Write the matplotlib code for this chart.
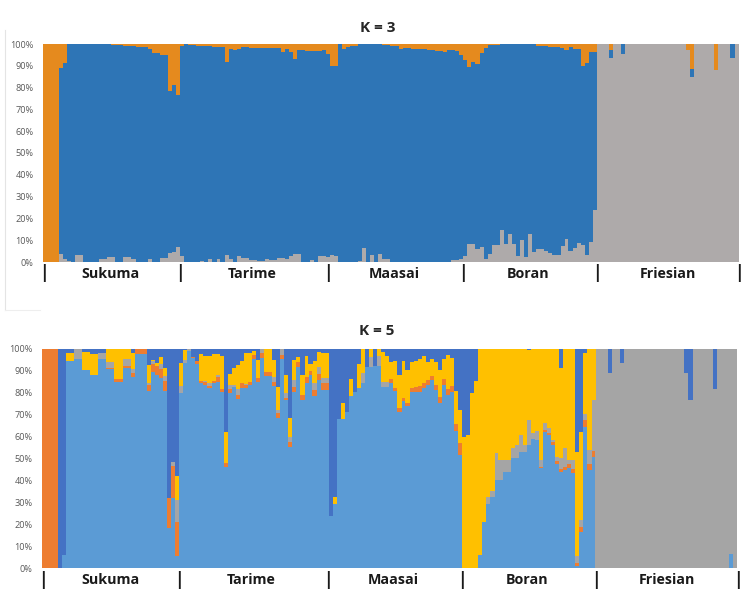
import numpy as np
import matplotlib
matplotlib.use('Agg')
import matplotlib.pyplot as plt
from matplotlib.lines import Line2D

W, H = 750, 593

groups = ['Sukuma', 'Tarime', 'Maasai', 'Boran', 'Friesian']
pct_labels = ['0%', '10%', '20%', '30%', '40%', '50%', '60%', '70%', '80%', '90%', '100%']

# K = 3, percent per individual
k3_gray = [0, 0, 0, 0, 3.8, 1.5, .4, .2, 3.4, 3.4,
           0, 0, 0, 0, 1.4, 1.4, 2.1, 2.1, 0, 0,
           2.1, 2.1, 1.4, 0, 0, 0, 1.5, 0, 0, 1.7,
           2, 4.3, 4.7, 7, 2.6, .2, .2, .2, .2, .3,
           .1, 1.2, 0, 1.2, 0, 3.3, 1.6, 0, 2.6, 2,
           1.7, 1, .8, .3, .3, 1.4, .8, .8, 2, 2,
           1.5, 2.8, 3.5, 3.5, 0, 0, .8, 0, 2.8, 2.8,
           2.3, 3.2, 2.9, 0, 0, 0, 0, 0, .3, 6.6,
           0, 3.4, 0, 3.5, 1.4, 1.4, 0, 0, 0, 0,
           0, 0, 0, 0, 0, 0, 0, 0, .1, .1,
           .1, 1, 1, 1.4, 2.8, 8.4, 8.4, 5.8, 6.9, 1.5,
           3.5, 7.7, 7.7, 14.8, 8.1, 12.7, 8.4, 2.6, 10.3, 2.3,
           13, 4.6, 6.1, 6.1, 4.9, 4.3, 3.4, 3.4, 7.4, 10.7,
           5, 6.6, 8.9, 7.7, 3.4, 9, 23.7,
           100, 100, 100, 93.4, 100, 100, 95.5] + [100] * 15 + [97.3, 85, 100, 100, 100, 100, 100, 88, 100, 100, 100, 93.4, 100]
k3_orange = [100, 100, 100, 100, 11, 8.5, 0, 0, 0, 0,
             0, 0, 0, 0, 0, 0, 0, .3, .5, .6,
             .7, .7, 1, 1.2, 1.3, 1.5, 2.5, 4, 4.2, 5,
             5, 21.6, 19, 23.6, 1, 0, .3, .6, .9, .7,
             .8, 1, 1.2, 1.3, 1.3, 8.2, 2.3, 2.8, 2.3, 1.5,
             1.5, 1.8, 1.7, 1.7, 1.7, 1.7, 2, 2, 2, 3.5,
             2.3, 3.5, 6.7, 2.8, 2.8, 3.2, 3, 3.4, 3.4, 2.8,
             4.6, 10, 10, 0, 2.3, 1.2, .8, .8, .2, 0,
             0, 0, 0, 0, .3, .3, .8, .8, 2.5, 1.7,
             1.7, 2.5, 2.5, 2.5, 2.5, 2.8, 2.8, 3, 3, 3.5,
             2.8, 2.8, 3, 5, 7.4, 10.4, 8.4, 9.3, 4.3, 2,
             .3, .3, .5, .2, .2, .1, .1, .1, .1, .1,
             .1, .1, .9, .9, .9, 1.2, 1.2, 1.2, 1.7, 2.8,
             1.5, 2.3, 2.3, 10, 8.9, 3.5, 3.5,
             0, 0, 0, 2.8, 0, 0, 0] + [0] * 15 + [2.7, 11.6, 0, 0, 0, 0, 0, 12, 0, 0, 0, 0, 0]

# K = 5, cumulative percent at the top of each colour, dark blue fills the rest
fries_lb = [0] * 33 + [6.5, 0]
fries_gr = [100, 100, 100, 89.2, 100, 100, 93.8] + [100] * 15 + [89.2, 76.7, 100, 100, 100, 100, 100, 81.8, 100, 100, 100, 100, 100]

k5_lb = [0, 0, 0, 0, 0, 6, 94.7, 94.7, 95.3, 95.3,
         90.4, 90.4, 88.1, 88.1, 95.3, 95.3, 90.7, 90.7, 85.1, 85.1,
         91.2, 91.2, 87.4, 97.7, 97.7, 97.7, 81, 89.7, 88.1, 86.6,
         81, 18.2, 31.9, 5.8, 79.8, 93.5, 99.2, 95.7, 93, 84.3,
         83.6, 82.1, 84.3, 84.8, 80.4, 46.4, 80.1, 82.5, 77.2, 82.4,
         82, 83.6, 95.3, 85.1, 95.7, 87.7, 87.7, 83.1, 68.4, 95.3,
         76.7, 55.5, 80.5, 91.9, 76.7, 84.3, 88.1, 78.6, 85.9, 81.3,
         81.3, 23.9, 29.3, 68.1, 68.1, 71.4, 78.6, 80.5, 82, 84.3,
         91.9, 91.9, 92.2, 92.2, 82.8, 82.8, 84.3, 81, 71.4, 76.3,
         74, 80.5, 80.5, 80.5, 82, 83.6, 85.9, 81.3, 75.5, 83.6,
         79, 80.5, 62.8, 51.7, 0, 0, 0, 0, 6, 21.3,
         29.3, 32.7, 40.3, 40.3, 44.1, 44.1, 50.5, 50.5, 53.2, 53.2,
         56.2, 59, 58.5, 45.6, 62.3, 60.8, 56.2, 47.6, 44.1, 44.8,
         45.6, 43.3, 1, 16.7, 64.6, 44.8, 50.6] + fries_lb
k5_or = [100, 100, 100, 100, 0, 6, 94.7, 94.7, 95.3, 95.3,
         90.4, 90.4, 88.1, 88.1, 95.3, 95.3, 91.2, 91.2, 86.2, 86.2,
         92.2, 92.2, 89.2, 99.8, 99.8, 99.8, 83.6, 93.2, 92.4, 90.7,
         85.4, 32.2, 46.8, 21.3, 79.8, 93.5, 99.2, 96.2, 94.5, 85.4,
         85, 83.3, 85.4, 87.4, 81.9, 48.2, 81.8, 82.5, 79, 84.3,
         83.6, 85, 97.3, 86.6, 98, 89.7, 89.7, 85.1, 70.7, 97.3,
         77.5, 57.8, 82.5, 94.2, 79, 87.4, 90.1, 81.3, 88.4, 84.6,
         84.6, 23.9, 29.3, 68.1, 68.1, 71.4, 78.6, 80.5, 82, 84.3,
         91.9, 91.9, 92.2, 92.2, 82.8, 82.8, 86.2, 82.4, 72.9, 77.8,
         75.5, 82, 82.8, 83.1, 84.3, 85.9, 87.8, 83.6, 78.3, 86.2,
         81.6, 83.1, 65.8, 57, 0, 0, 0, 0, 6, 21.3,
         29.3, 32.7, 40.3, 40.3, 44.1, 44.1, 50.5, 50.5, 53.2, 53.2,
         56.2, 59, 58.5, 46.4, 63, 61.9, 57.8, 49.1, 45.1, 46.4,
         47.4, 45.3, 2.6, 19, 67.6, 47.6, 53.6] + fries_lb
k5_gr = [100, 100, 100, 100, 0, 6, 94.7, 94.7, 100, 100,
         90.4, 90.4, 88.1, 88.1, 98.2, 98.2, 94.2, 94.2, 86.2, 86.2,
         95.4, 95.4, 90.7, 99.8, 99.8, 99.8, 84.6, 94.7, 92.4, 93.2,
         87.7, 32.2, 48.3, 31.2, 83.1, 95, 100, 96.2, 94.5, 85.4,
         85.4, 84.6, 85.4, 88.1, 81.9, 48.2, 83.6, 83.5, 81.8, 84.3,
         84, 85, 97.3, 86.6, 100, 89.7, 89.7, 87.4, 72.2, 100,
         79.8, 60, 85.9, 94.2, 79, 87.4, 90.1, 84.3, 91.9, 86.6,
         86.6, 23.9, 29.3, 68.1, 68.1, 71.4, 78.6, 80.5, 82, 89.2,
         91.9, 96.2, 92.2, 96.8, 85.1, 85.1, 86.2, 82.4, 72.9, 77.8,
         75.5, 82, 82.8, 83.1, 84.3, 85.9, 87.8, 83.6, 78.3, 86.2,
         81.6, 83.1, 65.8, 57.3, 0, 0, 0, 0, 6, 21.3,
         32.7, 35.3, 52.4, 49.4, 49.4, 49.4, 54.7, 56.2, 60.8, 56.2,
         67.6, 61.6, 62.6, 49.4, 66.4, 63.8, 58.5, 50.6, 50.2, 54.7,
         49.4, 49.4, 5.6, 22, 70.4, 54, 76.7] + fries_gr
k5_ye = [100, 100, 100, 100, 0, 6, 98, 98, 100, 100,
         98.5, 98.5, 97.6, 97.6, 98.2, 98.2, 100, 100, 100, 100,
         100, 100, 98, 99.8, 99.8, 99.8, 92.7, 95, 93.8, 96.2,
         91.5, 32.2, 48.3, 42.1, 93.8, 99.5, 100, 96.2, 94.5, 97.6,
         97, 97, 97.7, 97.7, 96.8, 62.2, 88.4, 91.2, 92.7, 94.7,
         98, 98, 99, 95, 100, 100, 100, 95, 82.8, 100,
         88.1, 68.4, 95, 96.2, 88.1, 97, 93, 94.7, 98.8, 98,
         98, 23.9, 32.7, 68.1, 75.2, 71.4, 86.2, 80.5, 93.2, 100,
         91.9, 100, 92.2, 100, 98.5, 96.8, 94.2, 94.7, 88.1, 94.7,
         90.4, 93.9, 94.7, 95.3, 96.8, 94.2, 95.4, 93.9, 90.4, 95.4,
         97.3, 95.7, 80.9, 72.2, 60, 60.8, 80, 85.4, 100, 100,
         100, 100, 100, 100, 100, 100, 100, 100, 100, 100,
         99.6, 100, 100, 100, 100, 100, 100, 100, 91.2, 100,
         100, 100, 53.2, 62.3, 98.3, 100, 100] + fries_gr


def panel_axes(fig, left, right, top, bottom):
    ax = fig.add_axes([left / W, 1 - bottom / H, (right - left) / W, (bottom - top) / H])
    ax.set_xlim(-0.5, 171.5)
    ax.set_ylim(0, 100)
    ax.set_xticks([])
    ax.set_yticks(np.arange(0, 101, 10))
    ax.set_yticklabels(pct_labels, fontsize=6.6, color='#595959', family='Open Sans')
    ax.tick_params(axis='y', length=0, pad=6.5)
    for s in ax.spines.values():
        s.set_visible(False)
    return ax


def group_text(fig, centers, seps, y):
    for name, c in zip(groups, centers):
        fig.text(c / W, 1 - y / H, name, ha='center', va='center', fontsize=10.3,
                 fontweight='bold', family='Open Sans', color='#1a1a1a')
    for s in seps:
        fig.text(s / W, 1 - y / H, '|', ha='center', va='center', fontsize=12.5,
                 fontweight='bold', family='Open Sans', color='#1a1a1a')


fig = plt.figure(figsize=(W / 100, H / 100), dpi=100)
x = np.arange(172)

# top panel
ax1 = panel_axes(fig, 42.5, 738.5, 44, 262)
gray = np.array(k3_gray)
orange = np.array(k3_orange)
blue = 100 - gray - orange
ax1.bar(x, gray, width=1.03, color='#AEAAAA', lw=0)
ax1.bar(x, blue, width=1.03, bottom=gray, color='#2E75B6', lw=0)
ax1.bar(x, orange, width=1.03, bottom=gray + blue, color='#E58A1E', lw=0)

# bottom panel
ax2 = panel_axes(fig, 41.7, 737, 349, 568.3)
tops = [np.zeros(172), np.array(k5_lb), np.array(k5_or), np.array(k5_gr), np.array(k5_ye), np.full(172, 100.0)]
cols = ['#5B9BD5', '#ED7D31', '#A5A5A5', '#FFC000', '#4472C4']
for j in range(5):
    ax2.bar(x, tops[j + 1] - tops[j], width=1.03, bottom=tops[j], color=cols[j], lw=0)

fig.text(378 / W, 1 - 28 / H, 'K = 3', ha='center', va='center', fontsize=11, fontweight='bold',
         family='Open Sans', color='#262626')
fig.text(377 / W, 1 - 331 / H, 'K = 5', ha='center', va='center', fontsize=11, fontweight='bold',
         family='Open Sans', color='#262626')

group_text(fig, [111, 252, 394, 528, 668], [43.5, 180, 328, 463, 596.5, 738.5], 273.5)
group_text(fig, [110.5, 251, 393, 527, 667], [42.5, 179, 327.5, 462, 596, 737.5], 580)

# faint frame left over around the top chart
fig.add_artist(Line2D([4.5 / W, 4.5 / W], [1 - 30 / H, 1 - 310 / H], color='#e4e4e4', lw=0.8))
fig.add_artist(Line2D([4.5 / W, 40 / W], [1 - 310 / H, 1 - 310 / H], color='#eeeeee', lw=0.8))

fig.savefig('out.png', dpi=100)
